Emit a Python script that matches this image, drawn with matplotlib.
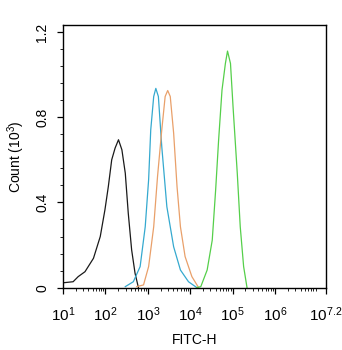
import matplotlib
matplotlib.use("Agg")
import matplotlib.pyplot as plt
from matplotlib.ticker import FixedLocator, MultipleLocator, LogLocator, NullFormatter
import numpy as np

plt.rcParams["font.family"] = ["Liberation Sans", "DejaVu Sans"]
plt.rcParams["mathtext.fontset"] = "custom"
plt.rcParams["mathtext.rm"] = "Liberation Sans"
plt.rcParams["mathtext.it"] = "Liberation Sans"

# histogram traces: log10(FITC-H) and count (10^3)
black_logx = [1.0, 1.24, 1.36, 1.52, 1.72, 1.88, 1.99, 2.07, 2.15, 2.23, 2.31, 2.39, 2.47, 2.54, 2.62, 2.70, 2.78]
black_y = [0.023, 0.028, 0.052, 0.075, 0.138, 0.24, 0.365, 0.474, 0.60, 0.655, 0.694, 0.647, 0.537, 0.35, 0.177, 0.068, 0.0]

blue_logx = [2.47, 2.66, 2.82, 2.94, 3.02, 3.07, 3.14, 3.19, 3.25, 3.33, 3.45, 3.61, 3.77, 3.96, 4.16]
blue_y = [0.005, 0.028, 0.099, 0.286, 0.506, 0.74, 0.897, 0.935, 0.897, 0.662, 0.38, 0.192, 0.083, 0.028, 0.0]

orange_logx = [2.74, 2.90, 3.02, 3.14, 3.23, 3.33, 3.41, 3.47, 3.53, 3.61, 3.69, 3.77, 3.88, 4.04, 4.20]
orange_y = [0.005, 0.013, 0.099, 0.286, 0.521, 0.74, 0.897, 0.925, 0.897, 0.725, 0.474, 0.286, 0.146, 0.052, 0.0]

green_logx = [4.15, 4.25, 4.40, 4.52, 4.60, 4.67, 4.75, 4.83, 4.88, 4.95, 5.01, 5.11, 5.18, 5.26, 5.34]
green_y = [0.0, 0.005, 0.083, 0.223, 0.458, 0.692, 0.927, 1.052, 1.11, 1.052, 0.85, 0.537, 0.286, 0.099, 0.0]

xtick_pows = [1, 2, 3, 4, 5, 6, 7.2]
xtick_labels = ["$10^{1}$", "$10^{2}$", "$10^{3}$", "$10^{4}$", "$10^{5}$", "$10^{6}$", "$10^{7.2}$"]
ytick_vals = [0, 0.4, 0.8, 1.2]

fig = plt.figure(figsize=(3.42, 3.5), dpi=100)
ax = fig.add_axes([0.184, 0.178, 0.769, 0.751])

ax.plot(10 ** np.array(black_logx), black_y, color="#1a1a1a", lw=0.9)
ax.plot(10 ** np.array(blue_logx), blue_y, color="#35a9cf", lw=0.9)
ax.plot(10 ** np.array(orange_logx), orange_y, color="#e9a06a", lw=0.9)
ax.plot(10 ** np.array(green_logx), green_y, color="#55cf4a", lw=0.9)

ax.set_xscale("log")
ax.set_xlim(10 ** 1, 10 ** 7.2)
ax.set_ylim(0, 1.233)

ax.xaxis.set_major_locator(FixedLocator([10 ** p for p in xtick_pows]))
ax.set_xticklabels(xtick_labels, fontsize=11)
ax.xaxis.set_minor_locator(LogLocator(base=10, subs=np.arange(2, 10), numticks=20))
ax.xaxis.set_minor_formatter(NullFormatter())

ax.yaxis.set_major_locator(FixedLocator(ytick_vals))
ax.set_yticklabels(["0", "0.4", "0.8", "1.2"], rotation=90, va="center", fontsize=10)
ax.yaxis.set_minor_locator(MultipleLocator(0.08))

ax.tick_params(which="major", direction="out", length=4, width=0.9, color="black")
ax.tick_params(which="minor", direction="out", length=2, width=0.6, color="black")
ax.tick_params(axis="x", which="major", pad=9)
ax.tick_params(axis="y", which="major", pad=6)

for s in ax.spines.values():
    s.set_linewidth(1.0)
    s.set_color("black")

ax.set_xlabel("FITC-H", fontsize=10, labelpad=6)
ax.set_ylabel("Count ($10^{3}$)", fontsize=10, labelpad=6)

fig.savefig("out.png", dpi=100)
